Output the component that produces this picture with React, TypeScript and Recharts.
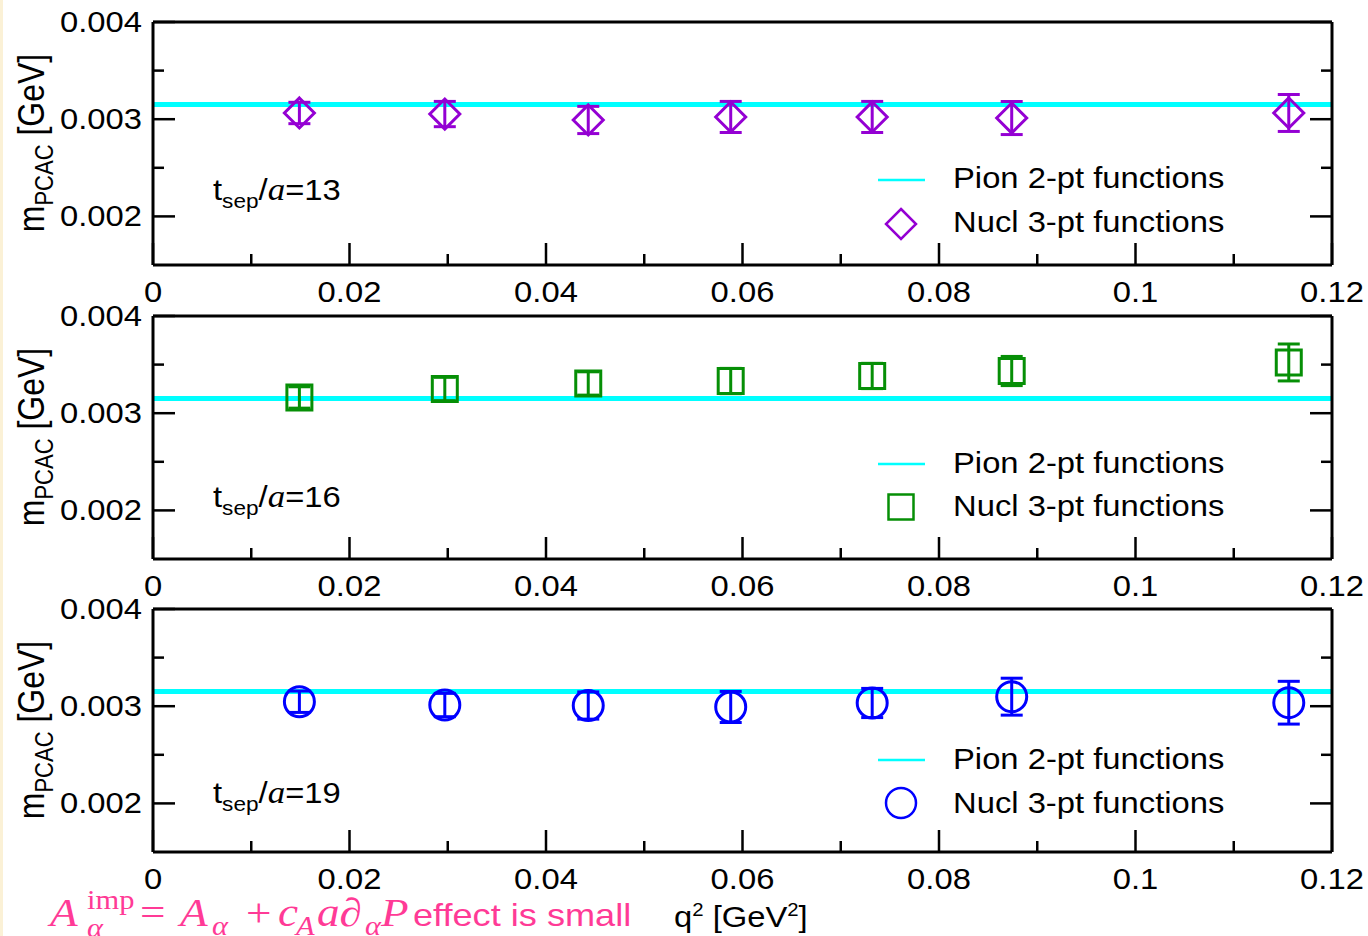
import React from "react"
import {
    ErrorBar,
    ReferenceLine,
    Scatter,
    ScatterChart,
    XAxis,
    YAxis,
} from "recharts"

// momentum transfer (GeV^2), shared by the three panels
const q2 = [0.0149, 0.0297, 0.0443, 0.0588, 0.0732, 0.0874, 0.1156]

// m_PCAC from nucleon 3-pt functions, per t_sep/a
const mpcac13 = [0.003064, 0.003053, 0.002992, 0.003023, 0.003023, 0.003012, 0.003064]
const err13 = [0.00011, 0.00013, 0.00014, 0.00016, 0.00016, 0.00017, 0.00019]
const mpcac16 = [0.003162, 0.003249, 0.003306, 0.003331, 0.003383, 0.003434, 0.003522]
const err16 = [0.00011, 0.00012, 0.00012, 0.00013, 0.00013, 0.00015, 0.00019]
const mpcac19 = [0.003046, 0.003012, 0.003007, 0.002992, 0.003033, 0.003098, 0.003036]
const err19 = [0.00011, 0.00012, 0.00014, 0.00016, 0.00015, 0.00019, 0.00022]

// pion 2-pt value (horizontal band)
const pionMass = 0.00315

const tsepLabels = ["13", "16", "19"]
const legendLabels = ["Pion 2-pt functions", "Nucl 3-pt functions"]

const xTicks = [0, 0.01, 0.02, 0.03, 0.04, 0.05, 0.06, 0.07, 0.08, 0.09, 0.1, 0.11, 0.12]
const xMajor = [0, 0.02, 0.04, 0.06, 0.08, 0.1, 0.12]
const yTicks = [0.002, 0.0025, 0.003, 0.0035, 0.004]
const yMajor = [0.002, 0.003, 0.004]

const FONT = "'Liberation Sans', Arial, sans-serif"
const SERIF = "'Liberation Serif', 'Times New Roman', serif"
const SX = 1.13 // glyphs in the picture are a bit wide
const FS = 29

const isMajor = (v: number, list: number[]) => list.some((m) => Math.abs(m - v) < 1e-9)

const BottomTick = (props: any) => {
    const { x, y, payload } = props
    const major = isMajor(payload.value, xMajor)
    return (
        <g>
            <line x1={x} y1={y} x2={x} y2={y - (major ? 22 : 11)} stroke="#000" strokeWidth={2.5} />
            {major && (
                <text
                    transform={`translate(${x},${y + 37}) scale(${SX},1)`}
                    textAnchor="middle"
                    fontFamily={FONT}
                    fontSize={FS}
                    fill="#000"
                >
                    {String(payload.value)}
                </text>
            )}
        </g>
    )
}

const TopTick = (props: any) => {
    const { x, y, payload } = props
    const major = isMajor(payload.value, xMajor)
    return <line x1={x} y1={y} x2={x} y2={y + (major ? 22 : 11)} stroke="#000" strokeWidth={2.5} />
}

const LeftTick = (props: any) => {
    const { x, y, payload } = props
    const major = isMajor(payload.value, yMajor)
    return (
        <g>
            <line x1={x} y1={y} x2={x + (major ? 22 : 11)} y2={y} stroke="#000" strokeWidth={2.5} />
            {major && (
                <text
                    transform={`translate(${x - 11},${y + 10}) scale(${SX},1)`}
                    textAnchor="end"
                    fontFamily={FONT}
                    fontSize={FS}
                    fill="#000"
                >
                    {String(payload.value)}
                </text>
            )}
        </g>
    )
}

const RightTick = (props: any) => {
    const { x, y, payload } = props
    const major = isMajor(payload.value, yMajor)
    return <line x1={x} y1={y} x2={x - (major ? 22 : 11)} y2={y} stroke="#000" strokeWidth={2.5} />
}

const symbolPath = (kind: string, cx: number, cy: number) => {
    if (kind === "diamond") {
        const r = 15
        return `M${cx},${cy - r}L${cx + r},${cy}L${cx},${cy + r}L${cx - r},${cy}Z`
    }
    if (kind === "square") {
        const r = 12.5
        return `M${cx - r},${cy - r}H${cx + r}V${cy + r}H${cx - r}Z`
    }
    const r = 15
    return `M${cx - r},${cy}A${r},${r} 0 1,0 ${cx + r},${cy}A${r},${r} 0 1,0 ${cx - r},${cy}Z`
}

const panels = [
    { top: 22, values: mpcac13, errs: err13, color: "#9400d3", kind: "diamond", lineY: 180, pionY: 188, symY: 224, nuclY: 232, tsepY: 200 },
    { top: 316, values: mpcac16, errs: err16, color: "#068f06", kind: "square", lineY: 464, pionY: 473, symY: 507, nuclY: 516, tsepY: 507 },
    { top: 609, values: mpcac19, errs: err19, color: "#0000ff", kind: "circle", lineY: 760, pionY: 769, symY: 803, nuclY: 813, tsepY: 803 },
]

const PLOT_LEFT = 153
const PLOT_RIGHT = 1332
const PLOT_H = 243
const CH = 340

function Panel({ p }: { p: (typeof panels)[number] }) {
    const data = q2.map((x, i) => ({ x, y: p.values[i], err: p.errs[i] }))
    const axisLine = { stroke: "#000", strokeWidth: 3 }
    // axes take 1px each, so the margins are 1px smaller to keep the plot box in place
    return (
        <div style={{ position: "absolute", left: 0, top: p.top - 22 }}>
            <ScatterChart
                width={1368}
                height={CH}
                margin={{ top: 21, right: 1368 - PLOT_RIGHT - 1, bottom: CH - 22 - PLOT_H - 1, left: PLOT_LEFT - 1 }}
            >
                <XAxis
                    xAxisId="b"
                    dataKey="x"
                    type="number"
                    domain={[0, 0.12]}
                    ticks={xTicks}
                    interval={0}
                    height={1}
                    tickSize={0}
                    tickMargin={0}
                    tick={<BottomTick />}
                    axisLine={axisLine}
                    allowDataOverflow
                />
                <XAxis
                    xAxisId="t"
                    orientation="top"
                    type="number"
                    domain={[0, 0.12]}
                    ticks={xTicks}
                    interval={0}
                    height={1}
                    tickSize={0}
                    tickMargin={0}
                    tick={<TopTick />}
                    axisLine={axisLine}
                    allowDataOverflow
                />
                <YAxis
                    yAxisId="l"
                    dataKey="y"
                    type="number"
                    domain={[0.0015, 0.004]}
                    ticks={yTicks}
                    interval={0}
                    width={1}
                    tickSize={0}
                    tickMargin={0}
                    tick={<LeftTick />}
                    axisLine={axisLine}
                    allowDataOverflow
                />
                <YAxis
                    yAxisId="r"
                    orientation="right"
                    type="number"
                    domain={[0.0015, 0.004]}
                    ticks={yTicks}
                    interval={0}
                    width={1}
                    tickSize={0}
                    tickMargin={0}
                    tick={<RightTick />}
                    axisLine={axisLine}
                    allowDataOverflow
                />
                <ReferenceLine xAxisId="b" yAxisId="l" y={pionMass} stroke="#00ffff" strokeWidth={5} />
                <Scatter
                    xAxisId="b"
                    yAxisId="l"
                    data={data}
                    isAnimationActive={false}
                    shape={(s: any) => (
                        <path d={symbolPath(p.kind, s.cx, s.cy)} fill="none" stroke={p.color} strokeWidth={3} />
                    )}
                >
                    <ErrorBar dataKey="err" direction="y" width={11} stroke={p.color} strokeWidth={3} />
                </Scatter>
            </ScatterChart>
        </div>
    )
}

export default function App() {
    const mid = (p: (typeof panels)[number]) => p.top + 121
    const mathX = (sx: number) => (sx - 50) / SX
    return (
        <div style={{ position: "absolute", left: 0, top: 0, width: 1368, height: 936, background: "#fff", overflow: "hidden" }}>
            {panels.map((p, i) => (
                <Panel key={i} p={p} />
            ))}
            <svg
                width={1368}
                height={936}
                style={{ position: "absolute", left: 0, top: 0, pointerEvents: "none" }}
                fontFamily={FONT}
            >
                <rect x={0} y={0} width={3} height={936} fill="#fbf1d6" />
                {panels.map((p, i) => (
                    <g key={i}>
                        {/* y title */}
                        <text
                            transform={`translate(44,${mid(p)}) rotate(-90) scale(1,${SX})`}
                            textAnchor="middle"
                            fontSize={32}
                            fill="#000"
                        >
                            m<tspan fontSize={22} dy={8}>PCAC</tspan>
                            <tspan dy={-8}> [GeV]</tspan>
                        </text>
                        {/* t_sep label */}
                        <text transform={`translate(213,${p.tsepY}) scale(${SX},1)`} fontSize={FS} fill="#000">
                            t<tspan fontSize={20} dy={8}>sep</tspan>
                            <tspan dy={-8}>/</tspan>
                            <tspan fontFamily={SERIF} fontStyle="italic" fontSize={31}>a</tspan>
                            <tspan>={tsepLabels[i]}</tspan>
                        </text>
                        {/* legend */}
                        <line x1={878} x2={925} y1={p.lineY} y2={p.lineY} stroke="#00ffff" strokeWidth={2.5} />
                        <path d={symbolPath(p.kind, 901, p.symY)} fill="none" stroke={p.color} strokeWidth={2.5} />
                        <text transform={`translate(953,${p.pionY}) scale(${SX},1)`} fontSize={FS} fill="#000">
                            {legendLabels[0]}
                        </text>
                        <text transform={`translate(953,${p.nuclY}) scale(${SX},1)`} fontSize={FS} fill="#000">
                            {legendLabels[1]}
                        </text>
                    </g>
                ))}
                {/* x title */}
                <text transform={`translate(674,927) scale(${SX},1)`} fontSize={FS} fill="#000">
                    q<tspan fontSize={18} dy={-11}>2</tspan>
                    <tspan dy={11}> [GeV</tspan>
                    <tspan fontSize={18} dy={-11}>2</tspan>
                    <tspan dy={11}>]</tspan>
                </text>
                {/* note */}
                <g transform={`translate(50,926) scale(${SX},1)`} fill="#ff3a96">
                    <text fontFamily={SERIF} fontSize={40}>
                        <tspan x={mathX(50)} y={0} fontStyle="italic">A</tspan>
                        <tspan x={mathX(87)} y={-17} fontSize={27}>imp</tspan>
                        <tspan x={mathX(87)} y={11} fontSize={27} fontStyle="italic">α</tspan>
                        <tspan x={mathX(140)} y={0}>=</tspan>
                        <tspan x={mathX(180)} y={0} fontStyle="italic">A</tspan>
                        <tspan x={mathX(212)} y={9} fontSize={27} fontStyle="italic">α</tspan>
                        <tspan x={mathX(246)} y={0}>+</tspan>
                        <tspan x={mathX(278)} y={0} fontStyle="italic">c</tspan>
                        <tspan x={mathX(296)} y={9} fontSize={27} fontStyle="italic">A</tspan>
                        <tspan x={mathX(317)} y={0} fontStyle="italic">a∂</tspan>
                        <tspan x={mathX(365)} y={9} fontSize={27} fontStyle="italic">α</tspan>
                        <tspan x={mathX(381)} y={0} fontStyle="italic">P</tspan>
                    </text>
                    <text x={mathX(413)} fontFamily={FONT} fontSize={32}>effect is small</text>
                </g>
            </svg>
        </div>
    )
}
